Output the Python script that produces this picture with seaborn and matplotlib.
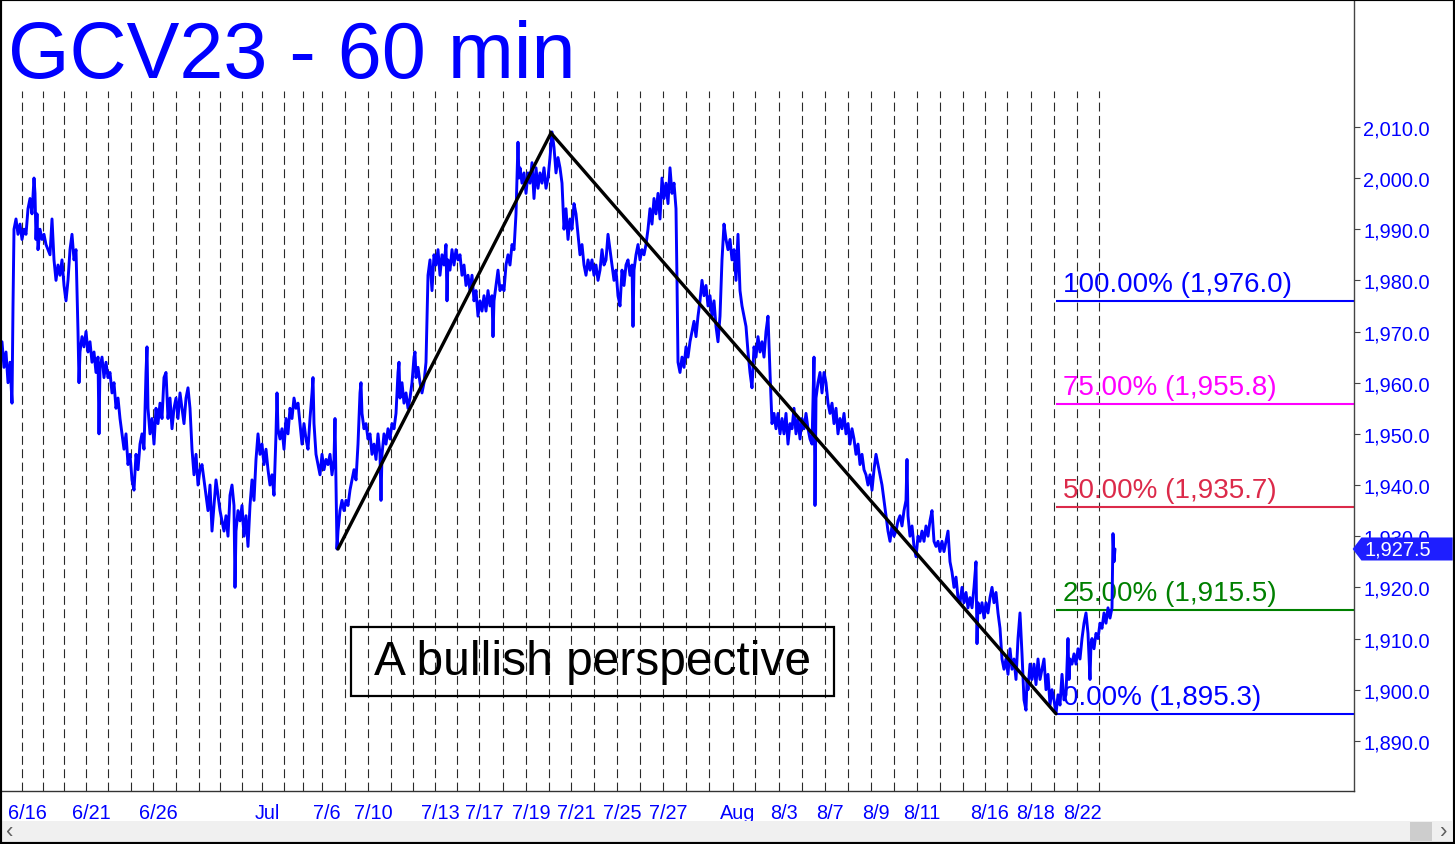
"""GCV23 60-min chart with a Fibonacci projection ("A bullish perspective")."""

import matplotlib

matplotlib.use("Agg")
import matplotlib.pyplot as plt
import matplotlib.transforms as mtransforms
from matplotlib import font_manager
from matplotlib.patches import Polygon, Rectangle
from matplotlib.ticker import FixedLocator, FixedFormatter, FuncFormatter
import seaborn as sns

# hourly bar index (about one bar per pixel column) and price
bar = [2, 4, 6, 8, 10, 12, 13, 14, 16, 18, 20, 22, 24, 26, 28, 30, 32, 34, 35, 36,
       37, 38, 40, 42, 44, 46, 48, 50, 52, 54, 56, 58, 60, 62, 64, 66, 68, 70, 72, 74,
       76, 78, 79, 80, 82, 84, 86, 88, 90, 92, 94, 96, 98, 99, 100, 102, 104, 106, 108, 110,
       112, 114, 116, 118, 120, 122, 124, 126, 128, 130, 132, 134, 136, 138, 140, 142, 144, 146, 147, 148,
       150, 152, 154, 156, 158, 160, 162, 164, 166, 168, 170, 172, 174, 176, 178, 180, 182, 184, 186, 188,
       190, 192, 194, 196, 198, 200, 202, 204, 206, 208, 210, 212, 214, 216, 218, 220, 222, 224, 226, 228,
       230, 232, 234, 235, 236, 238, 240, 242, 244, 246, 248, 250, 252, 254, 256, 258, 260, 262, 264, 266,
       268, 270, 272, 274, 276, 277, 278, 280, 282, 284, 286, 288, 290, 292, 294, 296, 298, 300, 302, 304,
       306, 308, 310, 312, 313, 314, 316, 318, 320, 322, 324, 326, 328, 330, 332, 334, 335, 336, 337, 338,
       340, 342, 344, 346, 348, 350, 352, 354, 356, 358, 360, 361, 362, 364, 366, 368, 370, 372, 374, 376,
       378, 380, 381, 382, 384, 386, 388, 390, 392, 394, 396, 398, 399, 400, 402, 404, 406, 408, 410, 412,
       414, 415, 416, 418, 420, 422, 424, 426, 428, 430, 432, 434, 436, 438, 440, 442, 444, 446, 447, 448,
       450, 452, 454, 456, 458, 460, 462, 464, 466, 468, 470, 472, 474, 476, 478, 480, 482, 484, 486, 488,
       490, 492, 493, 494, 496, 498, 500, 502, 504, 506, 508, 510, 512, 514, 516, 518, 519, 520, 522, 524,
       526, 528, 530, 532, 534, 536, 538, 540, 542, 544, 546, 548, 550, 552, 554, 556, 558, 560, 562, 564,
       566, 568, 570, 572, 574, 576, 578, 580, 582, 584, 586, 588, 590, 592, 594, 596, 598, 600, 602, 604,
       606, 608, 610, 612, 614, 616, 618, 620, 622, 624, 626, 628, 630, 632, 633, 634, 636, 638, 640, 642,
       644, 646, 648, 650, 652, 654, 656, 658, 660, 662, 664, 666, 668, 670, 672, 674, 676, 677, 678, 680,
       682, 684, 686, 688, 690, 692, 694, 696, 698, 700, 702, 704, 706, 708, 710, 712, 714, 716, 718, 720,
       722, 724, 726, 728, 730, 732, 734, 736, 738, 740, 742, 744, 746, 748, 750, 752, 754, 756, 758, 760,
       762, 764, 766, 768, 770, 772, 774, 776, 778, 780, 782, 784, 786, 788, 790, 792, 794, 796, 798, 800,
       802, 804, 806, 808, 810, 812, 814, 815, 816, 818, 820, 822, 824, 826, 828, 830, 832, 834, 836, 838,
       840, 842, 844, 846, 848, 850, 852, 854, 856, 858, 860, 862, 864, 866, 868, 870, 872, 874, 876, 878,
       880, 882, 884, 886, 888, 890, 892, 894, 896, 898, 900, 902, 904, 906, 907, 908, 910, 912, 914, 916,
       918, 920, 922, 924, 926, 928, 930, 932, 934, 936, 938, 940, 942, 944, 946, 948, 950, 952, 954, 956,
       958, 960, 962, 964, 966, 968, 970, 972, 974, 976, 977, 978, 980, 982, 984, 986, 988, 990, 992, 994,
       996, 998, 1000, 1002, 1004, 1006, 1008, 1010, 1012, 1014, 1016, 1018, 1020, 1022, 1024, 1026, 1027, 1028, 1030, 1032,
       1034, 1036, 1038, 1040, 1042, 1044, 1046, 1048, 1050, 1052, 1054, 1056, 1058, 1060, 1062, 1064, 1066, 1068, 1069, 1070,
       1072, 1074, 1076, 1078, 1080, 1082, 1084, 1086, 1088, 1090, 1091, 1092, 1094, 1096, 1098, 1100, 1102, 1104, 1106, 1108,
       1110, 1112, 1113, 1114, 1115]
price = [1968, 1963, 1966, 1960, 1964, 1956, 1975, 1990, 1992, 1989, 1991, 1988, 1990, 1989, 1994, 1996, 1993, 2000, 1997, 1988,
         1993, 1986, 1990, 1988, 1989, 1987, 1986, 1985, 1992, 1984, 1980, 1983, 1981, 1984, 1979, 1976, 1980, 1986, 1989, 1984,
         1986, 1970, 1960, 1966, 1969, 1967, 1970, 1966, 1968, 1964, 1966, 1962, 1965, 1950, 1963, 1965, 1961, 1964, 1961, 1962,
         1958, 1960, 1955, 1957, 1953, 1950, 1947, 1950, 1944, 1946, 1941, 1939, 1946, 1943, 1948, 1950, 1947, 1962, 1967, 1955,
         1950, 1953, 1948, 1955, 1952, 1956, 1953, 1961, 1962, 1953, 1957, 1951, 1955, 1957, 1953, 1958, 1955, 1952, 1957, 1959,
         1955, 1947, 1942, 1946, 1940, 1943, 1944, 1941, 1938, 1935, 1940, 1931, 1936, 1941, 1938, 1935, 1933, 1931, 1934, 1930,
         1938, 1940, 1936, 1920, 1931, 1935, 1933, 1936, 1930, 1934, 1928, 1936, 1941, 1937, 1945, 1950, 1946, 1948, 1944, 1947,
         1943, 1940, 1942, 1938, 1950, 1958, 1951, 1949, 1951, 1947, 1953, 1950, 1955, 1953, 1957, 1955, 1956, 1952, 1948, 1952,
         1949, 1947, 1953, 1958, 1961, 1952, 1946, 1944, 1942, 1946, 1943, 1945, 1944, 1946, 1942, 1945, 1953, 1940, 1927.5, 1931,
         1935, 1937, 1935, 1937, 1936, 1939, 1941, 1943, 1941, 1948, 1958, 1960, 1954, 1951, 1952, 1949, 1950, 1946, 1948, 1945,
         1950, 1946, 1937, 1946, 1950, 1948, 1951, 1949, 1952, 1951, 1954, 1962, 1964, 1957, 1960, 1956, 1958, 1955, 1957, 1960,
         1965, 1966, 1961, 1963, 1960, 1958, 1960, 1964, 1981, 1984, 1978, 1985, 1983, 1986, 1981, 1985, 1983, 1987, 1976, 1984,
         1982, 1986, 1983, 1986, 1984, 1985, 1981, 1983, 1979, 1981, 1978, 1981, 1976, 1978, 1973, 1976, 1974, 1977, 1974, 1978,
         1975, 1977, 1969, 1976, 1979, 1982, 1978, 1979, 1978, 1983, 1985, 1983, 1987, 1986, 1993, 2007, 2000, 2002, 1999, 2001,
         1997, 2001, 1999, 2003, 1996, 2002, 1998, 2001, 1999, 2002, 1998, 2000, 2004, 2009, 2006, 2001, 2004, 2002, 1999, 1990,
         1994, 1988, 1992, 1990, 1995, 1993, 1989, 1985, 1987, 1983, 1981, 1984, 1982, 1984, 1981, 1983, 1980, 1982, 1986, 1983,
         1984, 1989, 1986, 1983, 1980, 1982, 1977, 1975, 1982, 1979, 1983, 1984, 1981, 1983, 1971, 1982, 1985, 1987, 1984, 1986,
         1985, 1987, 1990, 1994, 1991, 1996, 1993, 1997, 1992, 2000, 1996, 1999, 1995, 2002, 1997, 1999, 1994, 1980, 1964, 1962,
         1965, 1963, 1967, 1965, 1968, 1970, 1972, 1969, 1973, 1976, 1980, 1977, 1979, 1975, 1977, 1973, 1976, 1971, 1968, 1973,
         1984, 1991, 1988, 1986, 1988, 1984, 1986, 1980, 1989, 1978, 1975, 1973, 1971, 1966, 1962, 1959, 1967, 1965, 1969, 1966,
         1968, 1965, 1970, 1973, 1962, 1952, 1954, 1951, 1954, 1950, 1953, 1950, 1954, 1948, 1952, 1951, 1955, 1950, 1953, 1949,
         1953, 1951, 1954, 1951, 1949, 1948, 1965, 1936, 1957, 1960, 1962, 1958, 1962, 1960, 1956, 1954, 1956, 1952, 1955, 1950,
         1953, 1951, 1954, 1950, 1952, 1948, 1951, 1949, 1946, 1948, 1944, 1946, 1943, 1942, 1940, 1942, 1939, 1943, 1946, 1944,
         1942, 1940, 1937, 1934, 1931, 1929, 1932, 1930, 1931, 1933, 1934, 1932, 1935, 1937, 1945, 1934, 1930, 1932, 1928, 1926,
         1930, 1929, 1931, 1929, 1932, 1930, 1933, 1935, 1929, 1928, 1929, 1927, 1929, 1927, 1929, 1931, 1925, 1923, 1920, 1922,
         1918, 1917, 1920, 1917, 1919, 1916, 1918, 1916, 1920, 1925, 1909, 1917, 1915, 1917, 1914, 1917, 1915, 1918, 1920, 1917,
         1919, 1915, 1912, 1906, 1904, 1906, 1903, 1908, 1904, 1906, 1902, 1910, 1915, 1907, 1898, 1896, 1902, 1900, 1905, 1902,
         1905, 1901, 1906, 1902, 1904, 1906, 1900, 1903, 1897, 1900, 1898, 1895.3, 1899, 1897, 1903, 1898, 1899, 1910, 1902, 1906,
         1905, 1907, 1905, 1908, 1906, 1910, 1913, 1915, 1911, 1902, 1909, 1910, 1908, 1911, 1910, 1913, 1912, 1915, 1913, 1916,
         1914, 1916, 1930.5, 1925, 1927.5]

# first bar of each trading session, 6/16 ... 8/23
session_start = [22, 43, 64, 86, 108, 131, 153, 176, 199, 220, 242, 262, 284, 303, 322, 345,
                 368, 391, 413, 435, 457, 479, 503, 526, 549, 571, 594, 617, 640, 663, 686, 709,
                 733, 755, 779, 802, 825, 848, 871, 894, 917, 940, 963, 985, 1007, 1031, 1054, 1077, 1099]
label_session = [0, 3, 6, 11, 14, 16, 19, 21, 23, 25, 27, 29, 32, 34, 36, 38, 40, 43, 45, 47]
label_text = ["6/16", "6/21", "6/26", "Jul", "7/6", "7/10", "7/13", "7/17", "7/19", "7/21",
              "7/25", "7/27", "Aug", "8/3", "8/7", "8/9", "8/11", "8/16", "8/18", "8/22"]

# A-B-C swing drawn on the chart
zig_bar = [338, 551, 1056]
zig_price = [1927.5, 2008.8, 1895.3]

fib_pct = ["100.00%", "75.00%", "50.00%", "25.00%", "0.00%"]
fib_level = [1976.0, 1955.8, 1935.7, 1915.5, 1895.3]
last_price = 1927.5

BLUE = "#0000FF"
fib_colors = [BLUE, "#FF00FF", "#DC2A4A", "#008000", BLUE]

sns.set_style("white")
plt.rcParams["font.family"] = ["Liberation Sans", "DejaVu Sans"]

# narrow face for the date axis if it is there, otherwise a smaller regular one
installed = {f.name for f in font_manager.fontManager.ttflist}
if "Liberation Sans Narrow" in installed:
    date_family, date_size = ["Liberation Sans Narrow"], 17
else:
    date_family, date_size = ["Liberation Sans"], 14.3

W, H = 1455, 845
fig = plt.figure(figsize=(W / 100, H / 100), dpi=100)
ax = fig.add_axes([2 / W, 53 / H, 1352 / W, 790 / H])
ax.set_xlim(2, 1354)
ax.set_ylim(1880.2, 2034.6)

# session separators
for s in session_start:
    ax.axvline(s, ymin=0, ymax=0.886, color="#2a2a2a", lw=0.8, ls=(0, (8, 4)), zorder=1)

# fibonacci levels from the swing low
x_end = ax.get_xlim()[1]
for pct, lvl, col in zip(fib_pct, fib_level, fib_colors):
    ax.hlines(lvl, zig_bar[-1], x_end, color=col, lw=1.5, zorder=2)
    ax.annotate(f"{pct} ({lvl:,.1f})", xy=(zig_bar[-1], lvl), xytext=(5, 3),
                textcoords="offset points", color=col, fontsize=20, va="bottom", zorder=2)

sns.lineplot(x=bar, y=price, ax=ax, color=BLUE, lw=2.1, estimator=None, zorder=4)
ax.plot(zig_bar, zig_price, color="black", lw=2.4, zorder=5, solid_joinstyle="miter")

# text box
ax.add_patch(Rectangle((0.2581, 0.1203), 0.3572, 0.0873, transform=ax.transAxes,
                       fill=False, ec="black", lw=1.6, zorder=6))
ax.text(0.4367, 0.164, "A bullish perspective", transform=ax.transAxes, ha="center",
        va="center", fontsize=34.5, color="black", zorder=6)

# axes styling
ax.spines["left"].set_visible(False)
ax.spines["top"].set_visible(False)
ax.spines["right"].set_color("#444444")
ax.spines["bottom"].set_color("#333333")
ax.spines["right"].set_linewidth(1)
ax.spines["bottom"].set_linewidth(1)

ax.yaxis.tick_right()
ax.set_yticks(range(1890, 2011, 10))
ax.yaxis.set_major_formatter(FuncFormatter(lambda v, _: f"{v:,.1f}"))
ax.tick_params(axis="y", direction="out", length=4.5, width=0.8, color="#444444",
               labelcolor=BLUE, labelsize=14.4, pad=2)

tick_pos = [s + 5 for s in session_start]
tick_lab = [""] * len(session_start)
for k, t in zip(label_session, label_text):
    tick_lab[k] = t
ax.xaxis.set_major_locator(FixedLocator(tick_pos))
ax.xaxis.set_major_formatter(FixedFormatter(tick_lab))
ax.tick_params(axis="x", direction="out", length=7, width=0.8, color="#333333",
               labelcolor=BLUE, labelsize=date_size, pad=1.5)
for lbl in ax.get_xticklabels():
    lbl.set_family(date_family)
ax.set_xlabel("")
ax.set_ylabel("")

# last price tag
trans = mtransforms.blended_transform_factory(ax.transAxes, ax.transData)
hh = 2.25
tag = Polygon([(0.999, last_price), (1.0055, last_price + hh), (1.073, last_price + hh),
               (1.073, last_price - hh), (1.0055, last_price - hh)],
              closed=True, transform=trans, fc="#1E1EFF", ec="none", clip_on=False, zorder=10)
ax.add_patch(tag)
ax.text(1.0075, last_price, f"{last_price:,.1f}", transform=trans, color="white",
        fontsize=14.4, va="center", ha="left", zorder=11, clip_on=False)

# title
fig.text(8 / W, 1 - 78 / H, "GCV23 - 60 min", color=BLUE, fontsize=57, va="baseline", ha="left")

# scroll bar strip
fig.add_artist(Rectangle((2 / W, 2 / H), 1450 / W, 21 / H, transform=fig.transFigure,
                         fc="#F0F0F0", ec="none"))
fig.add_artist(Rectangle((1410 / W, 3 / H), 22 / W, 19 / H, transform=fig.transFigure,
                         fc="#CDCDCD", ec="none"))
fig.text(10 / W, 12 / H, "‹", fontsize=16, color="#606060", va="center", ha="center")
fig.text(1444 / W, 12 / H, "›", fontsize=16, color="#606060", va="center", ha="center")

# outer frame
fig.add_artist(Rectangle((0, 0), 1, 1, transform=fig.transFigure, fill=False, ec="black", lw=3))

fig.savefig("out.png", dpi=100)
plt.close(fig)
